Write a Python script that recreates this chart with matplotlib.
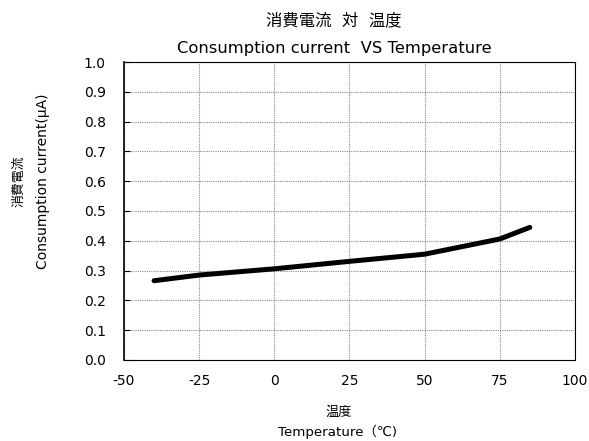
import matplotlib
matplotlib.use("Agg")
import matplotlib.pyplot as plt

plt.rcParams['font.family'] = ['DejaVu Sans', 'Noto Sans CJK JP']
plt.rcParams['axes.unicode_minus'] = False

# temperature (C) vs consumption current (uA)
temps = [-40, -25, 0, 25, 50, 75, 85]
current = [0.266, 0.285, 0.306, 0.331, 0.355, 0.406, 0.445]

x_ticks = [-50, -25, 0, 25, 50, 75, 100]
y_ticks = [0.0, 0.1, 0.2, 0.3, 0.4, 0.5, 0.6, 0.7, 0.8, 0.9, 1.0]

fig = plt.figure(figsize=(5.89, 4.41), dpi=100)
ax = fig.add_axes([0.2105, 0.1837, 0.7655, 0.6757])

ax.plot(temps, current, color='black', linewidth=3.6, solid_capstyle='round')

ax.set_xlim(-50, 100)
ax.set_ylim(0, 1.0)
ax.set_xticks(x_ticks)
ax.set_yticks(y_ticks)
ax.set_yticklabels(['%.1f' % v for v in y_ticks])
ax.tick_params(axis='x', length=0, labelsize=10, pad=10)
ax.tick_params(axis='y', length=4, direction='in', labelsize=10, pad=13)
ax.grid(True, color='#888888', linestyle=(0, (1, 1)), linewidth=0.8)
for s in ax.spines.values():
    s.set_linewidth(0.8)
ax.spines['left'].set_linewidth(1.2)

fig.text(0.567, 0.9535, '消費電流  対  温度', ha='center', va='center', fontsize=11.8)
fig.text(0.567, 0.889, 'Consumption current  VS Temperature', ha='center', va='center', fontsize=11.8)
fig.text(0.032, 0.59, '消費電流', ha='center', va='center', rotation=90, fontsize=9.3)
fig.text(0.073, 0.59, 'Consumption current(μA)', ha='center', va='center', rotation=90, fontsize=10)
fig.text(0.575, 0.066, '温度', ha='center', va='center', fontsize=9.5)
fig.text(0.573, 0.022, 'Temperature（℃)', ha='center', va='center', fontsize=9.6)

fig.savefig('out.png', dpi=100)
